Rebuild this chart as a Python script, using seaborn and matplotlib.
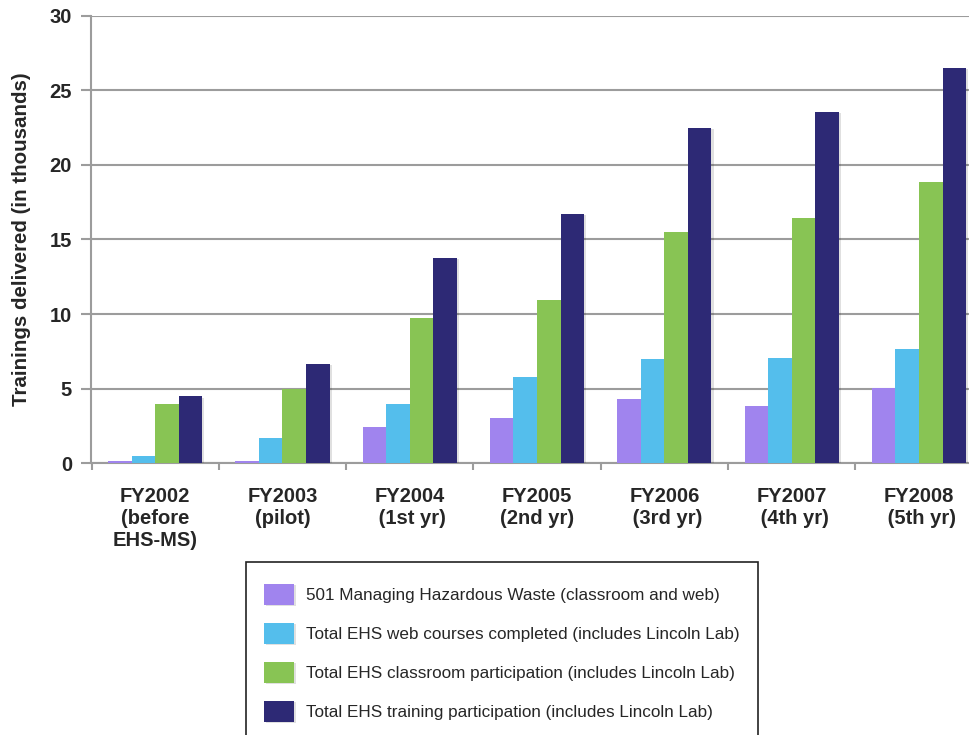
import matplotlib
matplotlib.use("Agg")
import matplotlib.pyplot as plt
import matplotlib.patheffects as pe
from matplotlib.patches import Rectangle
import numpy as np
import pandas as pd
import seaborn as sns

# Fiscal years and their labels
years = ["FY2002", "FY2003", "FY2004", "FY2005", "FY2006", "FY2007", "FY2008"]
year_labels = [
    "FY2002\n(before\nEHS-MS)",
    "FY2003\n(pilot)",
    "FY2004\n (1st yr)",
    "FY2005\n(2nd yr)",
    "FY2006\n (3rd yr)",
    "FY2007\n (4th yr)",
    "FY2008\n (5th yr)",
]

# Trainings delivered, in thousands
hazardous_waste_501 = [0.18, 0.18, 2.43, 3.04, 4.31, 3.84, 5.05]
web_courses = [0.49, 1.70, 3.97, 5.78, 6.99, 7.06, 7.66]
classroom = [3.97, 4.98, 9.74, 10.95, 15.50, 16.44, 18.85]
total_training = [4.50, 6.66, 13.76, 16.70, 22.47, 23.55, 26.50]

series_names = [
    "501 Managing Hazardous Waste (classroom and web)",
    "Total EHS web courses completed (includes Lincoln Lab)",
    "Total EHS classroom participation (includes Lincoln Lab)",
    "Total EHS training participation (includes Lincoln Lab)",
]
series_colors = ["#A084EE", "#54BEEC", "#88C454", "#2D2975"]

df = pd.DataFrame({
    "year": np.tile(years, 4),
    "value": hazardous_waste_501 + web_courses + classroom + total_training,
    "series": np.repeat(series_names, len(years)),
})

sns.set_theme(style="white")
plt.rcParams["font.family"] = ["Liberation Sans", "DejaVu Sans"]

W, H = 970, 735
fig = plt.figure(figsize=(W / 100, H / 100), dpi=100)
ax = fig.add_axes([91.5 / W, 1 - 463.3 / H, (982.6 - 91.5) / W, (463.3 - 15.5) / H])

sns.barplot(data=df, x="year", y="value", hue="series", hue_order=series_names,
            palette=series_colors, width=0.74, saturation=1, ax=ax,
            edgecolor="none", linewidth=0, legend=True, zorder=3)

shadow = [pe.SimplePatchShadow(offset=(1.5, -1), shadow_rgbFace="#000000", alpha=0.12), pe.Normal()]
for p in ax.patches:
    p.set_path_effects(shadow)

ax.set_ylim(0, 30)
ax.set_xlim(-0.5, len(years) - 0.5)
ax.set_yticks(np.arange(0, 31, 5))
ax.yaxis.grid(True, color="#9c9c9c", linewidth=1.5, zorder=0)
ax.set_axisbelow(True)

for side in ["top", "right"]:
    ax.spines[side].set_visible(False)
for side in ["left", "bottom"]:
    ax.spines[side].set_color("#9c9c9c")
    ax.spines[side].set_linewidth(1.5)

ax.tick_params(axis="y", which="major", length=7, width=1.5, color="#9c9c9c",
               pad=7, labelsize=14.5, left=True)
for t in ax.get_yticklabels():
    t.set_fontweight("bold")

ax.set_xticks(range(len(years)))
ax.set_xticklabels(year_labels, fontsize=14.5, fontweight="bold", linespacing=1.2)
ax.tick_params(axis="x", which="major", length=0, pad=17)
ax.set_xticks(np.arange(-0.5, len(years), 1.0), minor=True)
ax.tick_params(axis="x", which="minor", length=5, width=1.5, color="#9c9c9c", bottom=True)

ax.set_xlabel("")
ax.set_ylabel("Trainings delivered (in thousands)", fontsize=14.8, fontweight="bold", labelpad=13)

# Legend below the plot, inside a plain rectangular frame running off the bottom edge
handles, labels = ax.get_legend_handles_labels()
ax.get_legend().remove()
leg = fig.legend(handles, labels, loc="upper left", bbox_to_anchor=(264.3 / W, 1 - 584 / H),
                 fontsize=12.3, frameon=False,
                 handlelength=1.75, handleheight=1.52, handletextpad=0.68,
                 labelspacing=1.05, borderpad=0, borderaxespad=0)

frame = Rectangle((245.7 / W, 1 - 745 / H), 512 / W, (745 - 562) / H,
                  transform=fig.transFigure, fill=False, edgecolor="#222222",
                  linewidth=1.2, clip_on=False)
fig.patches.append(frame)

fig.savefig("out.png", dpi=100)
